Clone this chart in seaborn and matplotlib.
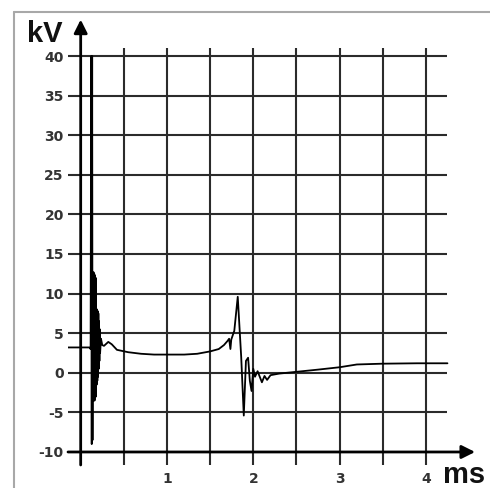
import matplotlib
matplotlib.use("Agg")
import matplotlib.pyplot as plt
import seaborn as sns
import pandas as pd

# ── waveform (time in ms, voltage in kV) ──
time_ms = [-0.15, 0.10, 0.115, 0.122, 0.128, 0.133, 0.137, 0.141, 0.145, 0.149,
           0.153, 0.157, 0.161, 0.165, 0.169, 0.173, 0.177, 0.181, 0.185, 0.189,
           0.193, 0.197, 0.201, 0.205, 0.209, 0.213, 0.217, 0.221, 0.225, 0.235,
           0.25, 0.27, 0.32, 0.36, 0.42, 0.55, 0.70, 0.85, 1.00, 1.20,
           1.35, 1.50, 1.60, 1.66, 1.70, 1.72, 1.735, 1.745, 1.78, 1.82,
           1.86, 1.89, 1.915, 1.94, 1.96, 1.98, 2.00, 2.02, 2.05, 2.10,
           2.13, 2.16, 2.20, 2.30, 2.48, 2.75, 3.00, 3.20, 3.50, 3.90,
           4.25]
voltage_kv = [3.2, 3.2, 3.0, 40.0, -9.0, 40.0, -8.5, 12.5, -3.5, 12.7,
              -3.5, 12.5, -3.5, 12.3, -3.0, 12.0, -3.0, 8.0, -1.5, 8.0,
              -1.0, 7.8, -0.5, 7.5, 0.5, 6.5, 1.5, 5.5, 2.5, 4.3,
              3.5, 3.4, 3.9, 3.6, 2.9, 2.6, 2.4, 2.3, 2.3, 2.3,
              2.4, 2.7, 3.0, 3.5, 4.0, 4.3, 3.0, 4.2, 5.3, 9.6,
              2.0, -5.4, 1.5, 1.9, -1.0, -2.3, 0.5, -0.5, 0.2, -1.2,
              -0.4, -0.9, -0.3, -0.1, 0.1, 0.4, 0.7, 1.05, 1.15, 1.2,
              1.2]

y_ticks = [-10, -5, 0, 5, 10, 15, 20, 25, 30, 35, 40]
x_grid = [0.5, 1.0, 1.5, 2.0, 2.5, 3.0, 3.5, 4.0]
x_ticks = [1, 2, 3, 4]
x_tick_labels = ["1", "2", "3", "4"]

GRID = "#2b2b2b"
LABEL = "#333333"

sns.set_theme(style="white")
plt.rcParams["font.family"] = ["DejaVu Sans"]

fig = plt.figure(figsize=(4.9, 4.88), dpi=100)
fig.patch.set_facecolor("white")
ax = fig.add_axes([68 / 490, 22 / 488, 410 / 490, 448 / 488])
ax.set_facecolor("white")

X0, X1 = -0.147, 4.604
Y0, Y1 = -11.77, 44.8
ax.set_xlim(X0, X1)
ax.set_ylim(Y0, Y1)
for s in ax.spines.values():
    s.set_visible(False)

# grid lines (the -10 and 0 ones are the axes themselves)
ax.hlines([v for v in y_ticks if v != -10], X0, 4.25, color=GRID, lw=1.5, zorder=1)
ax.vlines(x_grid, -11.64, 41.0, color=GRID, lw=1.5, zorder=1)

# axes with arrow heads
ax.annotate("", xy=(4.57, -10), xytext=(X0, -10),
            arrowprops=dict(arrowstyle="-|>", lw=2, color="black",
                            mutation_scale=20, shrinkA=0, shrinkB=0), zorder=3)
ax.annotate("", xy=(0, 44.6), xytext=(0, -11.64),
            arrowprops=dict(arrowstyle="-|>", lw=2, color="black",
                            mutation_scale=20, shrinkA=0, shrinkB=0), zorder=3)

df = pd.DataFrame({"t": time_ms, "kv": voltage_kv})
sns.lineplot(data=df, x="t", y="kv", sort=False, estimator=None,
             color="black", lw=1.3, ax=ax, zorder=4)

ax.set_xlabel("")
ax.set_ylabel("")
ax.set_yticks(y_ticks)
ax.set_yticklabels([str(v) for v in y_ticks], fontsize=10,
                   fontweight="bold", color=LABEL)
ax.set_xticks(x_ticks)
ax.set_xticklabels(x_tick_labels, fontsize=10, fontweight="bold", color=LABEL)
ax.tick_params(axis="y", length=0, pad=3)
ax.tick_params(axis="x", length=0, pad=4)

fig.text(27 / 490, (488 - 42) / 488, "kV", fontsize=21, fontweight="bold",
         family="Liberation Sans", ha="left", va="baseline", color="#111111")
fig.text(443 / 490, (488 - 483) / 488, "ms", fontsize=21, fontweight="bold",
         family="Liberation Sans", ha="left", va="baseline", color="#111111")

# light outer frame (top and left edges only)
fig.add_artist(plt.Line2D([14 / 490, 1.0], [1 - 12 / 488, 1 - 12 / 488],
                          transform=fig.transFigure, color="#a8a8a8", lw=1.5))
fig.add_artist(plt.Line2D([14 / 490, 14 / 490], [0.0, 1 - 12 / 488],
                          transform=fig.transFigure, color="#a8a8a8", lw=1.5))

fig.savefig("out.png", dpi=100, facecolor="white")
